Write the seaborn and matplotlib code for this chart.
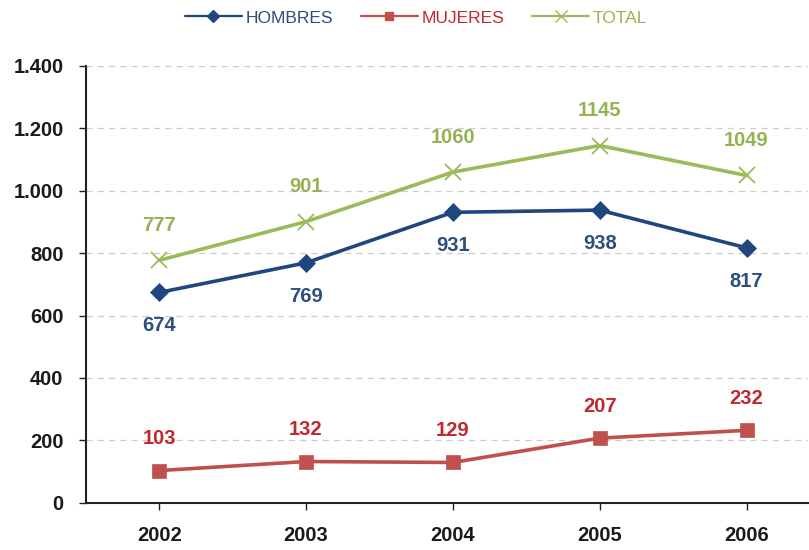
import pandas as pd
import numpy as np
import matplotlib.pyplot as plt
import seaborn as sns
from matplotlib.ticker import FuncFormatter
from matplotlib.lines import Line2D

# Data
years = [2002, 2003, 2004, 2005, 2006]
hombres = [674, 769, 931, 938, 817]
mujeres = [103, 132, 129, 207, 232]
total = [777, 901, 1060, 1145, 1049]

sns.set_theme(style="white")
plt.rcParams['font.family'] = ['Liberation Sans', 'DejaVu Sans']

df = pd.DataFrame({'year': years, 'HOMBRES': hombres, 'MUJERES': mujeres, 'TOTAL': total})

fig = plt.figure(figsize=(8.09, 5.5), dpi=100)
ax = fig.add_axes([0.106, 0.086, 0.893, 0.794])

# series: (column, line colour, text colour, marker, marker size, label offset in pt)
series = [
    ('HOMBRES', '#1F467F', '#2E4E7E', 'D', 9, -24),
    ('MUJERES', '#C0504D', '#C0282D', 's', 10, 23),
    ('TOTAL', '#9BBB59', '#93B251', 'x', 11, 25),
]

for col, lc, tc, mk, ms, off in series:
    sns.lineplot(data=df, x='year', y=col, ax=ax, color=lc, marker=mk,
                 markersize=ms, linewidth=2.6, legend=False,
                 markeredgecolor=lc, markeredgewidth=1.3 if mk == 'x' else 0.5)
    for x, y in zip(df['year'], df[col]):
        ax.annotate(str(y), (x, y), xytext=(0, off), textcoords='offset points',
                    ha='center', va='center', fontsize=14.5, fontweight='bold', color=tc)

ax.set_xlim(2001.5, 2006.42)
ax.set_ylim(0, 1400)
ax.set_xticks(years)
ax.set_yticks(range(0, 1401, 200))
ax.yaxis.set_major_formatter(FuncFormatter(lambda v, p: f"{int(v):,}".replace(',', '.')))
ax.set_xlabel('')
ax.set_ylabel('')

ax.yaxis.grid(True, linestyle=(0, (5, 4)), color='#CCCCCC', linewidth=0.9)
ax.set_axisbelow(True)
for s in ['top', 'right']:
    ax.spines[s].set_visible(False)
for s in ['left', 'bottom']:
    ax.spines[s].set_color('#222222')
    ax.spines[s].set_linewidth(1.5)

ax.tick_params(axis='both', which='major', direction='out', length=5, width=1,
               color='#222222', labelsize=14.5, bottom=True, left=True)
ax.tick_params(axis='x', pad=12)
ax.tick_params(axis='y', pad=11)
for lbl in ax.get_xticklabels() + ax.get_yticklabels():
    lbl.set_fontweight('bold')
    lbl.set_color('#1A1A1A')

handles = [Line2D([], [], color=lc, marker=mk, markersize=6 if mk != 'x' else 8,
                  linewidth=1.6, markeredgecolor=lc)
           for col, lc, tc, mk, ms, off in series]
leg = ax.legend(handles, [s[0] for s in series], loc='center',
                bbox_to_anchor=(0.457, 1.11), ncol=3, frameon=False,
                fontsize=12.5, handlelength=3.3, columnspacing=1.6,
                handletextpad=0.2)
for txt, s in zip(leg.get_texts(), series):
    txt.set_color(s[2])

fig.savefig('out.png', dpi=100)
